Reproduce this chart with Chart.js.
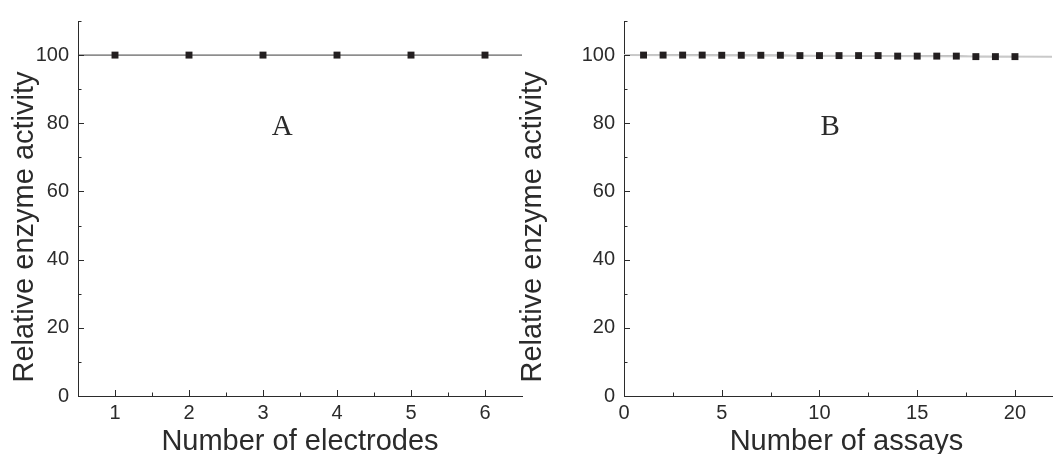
<!DOCTYPE html>
<html>
<head>
<meta charset="utf-8">
<title>Relative enzyme activity</title>
<script src="https://cdn.jsdelivr.net/npm/chart.js@4.4.1/dist/chart.umd.min.js"></script>
<style>
  html, body { margin: 0; padding: 0; background: #ffffff; overflow: hidden; }
  #wrap { position: relative; width: 1057px; height: 454px; }
  canvas { position: absolute; top: 0; }
  #panelA { left: 0; }
  #panelB { left: 500px; }
</style>
</head>
<body>
<div id="wrap">
  <canvas id="panelA" width="530" height="454"></canvas>
  <canvas id="panelB" width="557" height="454"></canvas>
</div>
<script>
// Panel A: activity of separately prepared electrodes
const electrodeNo = [1, 2, 3, 4, 5, 6];
const electrodeActivity = [100, 100, 100, 100, 100, 100];
const electrodeFitX = [0.5, 6.5];
const electrodeFitY = [100, 100];

// Panel B: activity over repeated assays with one electrode
const assayNo = [1, 2, 3, 4, 5, 6, 7, 8, 9, 10, 11, 12, 13, 14, 15, 16, 17, 18, 19, 20];
const assayActivity = [100.0, 100.0, 100.0, 100.0, 99.95, 99.95, 99.95, 99.95, 99.85, 99.85,
                       99.85, 99.85, 99.85, 99.7, 99.7, 99.7, 99.7, 99.55, 99.55, 99.55];
const assayFitX = [0, 21.9];
const assayFitY = [100.05, 99.5];

// Tick values
const activityTicks = [0, 20, 40, 60, 80, 100];
const activityMinorTicks = [10, 30, 50, 70, 90, 110];
const electrodeTicks = [1, 2, 3, 4, 5, 6];
const electrodeMinorTicks = [1.5, 2.5, 3.5, 4.5, 5.5];
const assayTicks = [0, 5, 10, 15, 20];
const assayMinorTicks = [2.5, 7.5, 12.5, 17.5];

const INK = '#2b2b2b';
const MARK = '#231f20';
const SANS = '"Liberation Sans", Arial, Helvetica, sans-serif';
const SERIF = '"Liberation Serif", "Times New Roman", serif';

const pts = (xs, ys) => xs.map((v, i) => ({ x: v, y: ys[i] }));

// Inward tick marks, axis titles and the panel letter
const panelDecor = {
  id: 'panelDecor',
  afterDraw(chart, args, o) {
    const { ctx, chartArea: a } = chart;
    const sx = chart.scales.x, sy = chart.scales.y;
    ctx.save();
    ctx.strokeStyle = INK;
    ctx.lineWidth = 1;
    ctx.beginPath();
    const vTick = (v, len) => {
      const px = Math.round(sx.getPixelForValue(v)) + 0.5;
      ctx.moveTo(px, a.bottom);
      ctx.lineTo(px, a.bottom - len);
    };
    const hTick = (v, len) => {
      const py = Math.round(sy.getPixelForValue(v)) + 0.5;
      ctx.moveTo(a.left, py);
      ctx.lineTo(a.left + len, py);
    };
    o.xMajor.forEach(v => vTick(v, 6));
    o.xMinor.forEach(v => vTick(v, 3.5));
    o.yMajor.forEach(v => hTick(v, 6));
    o.yMinor.forEach(v => hTick(v, 3.5));
    ctx.stroke();

    ctx.fillStyle = INK;
    ctx.textBaseline = 'alphabetic';
    ctx.textAlign = 'center';
    ctx.font = '29px ' + SANS;
    ctx.fillText(o.xTitle, o.xTitleX, 450);

    ctx.save();
    ctx.translate(o.yTitleX, o.yTitleY);
    ctx.rotate(-Math.PI / 2);
    ctx.font = '29px ' + SANS;
    ctx.fillText(o.yTitle, 0, 0);
    ctx.restore();

    ctx.font = '29px ' + SERIF;
    ctx.fillText(o.letter, sx.getPixelForValue(o.letterAt[0]), sy.getPixelForValue(o.letterAt[1]));
    ctx.restore();
  }
};

function makeScales(xMin, xMax, xTicks, yAxisWidth) {
  const tickFont = { family: SANS, size: 20 };
  return {
    x: {
      type: 'linear',
      min: xMin, max: xMax,
      grid: { display: false, drawTicks: false },
      border: { display: true, color: INK, width: 1 },
      ticks: { color: INK, font: tickFont, padding: 5, maxRotation: 0 },
      afterBuildTicks: s => { s.ticks = xTicks.map(v => ({ value: v })); },
      afterFit: s => { s.height = 58; }
    },
    y: {
      type: 'linear',
      min: 0, max: 110,
      grid: { display: false, drawTicks: false },
      border: { display: true, color: INK, width: 1 },
      ticks: { color: INK, font: tickFont, padding: 9 },
      afterBuildTicks: s => { s.ticks = activityTicks.map(v => ({ value: v })); },
      afterFit: s => { s.width = yAxisWidth; }
    }
  };
}

const common = {
  responsive: false,
  animation: false,
  devicePixelRatio: 1,
  plugins: { legend: { display: false }, tooltip: { enabled: false } }
};

new Chart(document.getElementById('panelA'), {
  type: 'scatter',
  data: {
    datasets: [
      {
        data: pts(electrodeNo, electrodeActivity),
        showLine: false,
        pointStyle: 'rect', pointRadius: 4.9, pointBorderWidth: 0,
        pointBackgroundColor: MARK
      },
      {
        data: pts(electrodeFitX, electrodeFitY),
        showLine: true, pointRadius: 0,
        borderColor: '#3c3c3c', borderWidth: 1
      }
    ]
  },
  options: {
    ...common,
    layout: { padding: { left: 0, top: 16, right: 8, bottom: 0 } },
    scales: makeScales(0.5, 6.5, electrodeTicks, 78),
    plugins: {
      ...common.plugins,
      panelDecor: {
        xMajor: electrodeTicks, xMinor: electrodeMinorTicks,
        yMajor: activityTicks, yMinor: activityMinorTicks,
        xTitle: 'Number of electrodes', xTitleX: 300,
        yTitle: 'Relative enzyme activity', yTitleX: 33, yTitleY: 227,
        letter: 'A', letterAt: [3.26, 76.5]
      }
    }
  },
  plugins: [panelDecor]
});

new Chart(document.getElementById('panelB'), {
  type: 'scatter',
  data: {
    datasets: [
      {
        data: pts(assayNo, assayActivity),
        showLine: false,
        pointStyle: 'rect', pointRadius: 4.9, pointBorderWidth: 0,
        pointBackgroundColor: MARK
      },
      {
        data: pts(assayFitX, assayFitY),
        showLine: true, pointRadius: 0,
        borderColor: '#c9c9c9', borderWidth: 2
      },
      {
        data: pts(assayNo, assayActivity),
        showLine: true, pointRadius: 0,
        borderColor: '#3c3c3c', borderWidth: 1
      }
    ]
  },
  options: {
    ...common,
    layout: { padding: { left: 0, top: 16, right: 0, bottom: 0 } },
    scales: makeScales(0, 21.9, assayTicks, 124),
    plugins: {
      ...common.plugins,
      panelDecor: {
        xMajor: assayTicks, xMinor: assayMinorTicks,
        yMajor: activityTicks, yMinor: activityMinorTicks,
        xTitle: 'Number of assays', xTitleX: 346.5,
        yTitle: 'Relative enzyme activity', yTitleX: 41, yTitleY: 227,
        letter: 'B', letterAt: [10.55, 76.5]
      }
    }
  },
  plugins: [panelDecor]
});
</script>
</body>
</html>
